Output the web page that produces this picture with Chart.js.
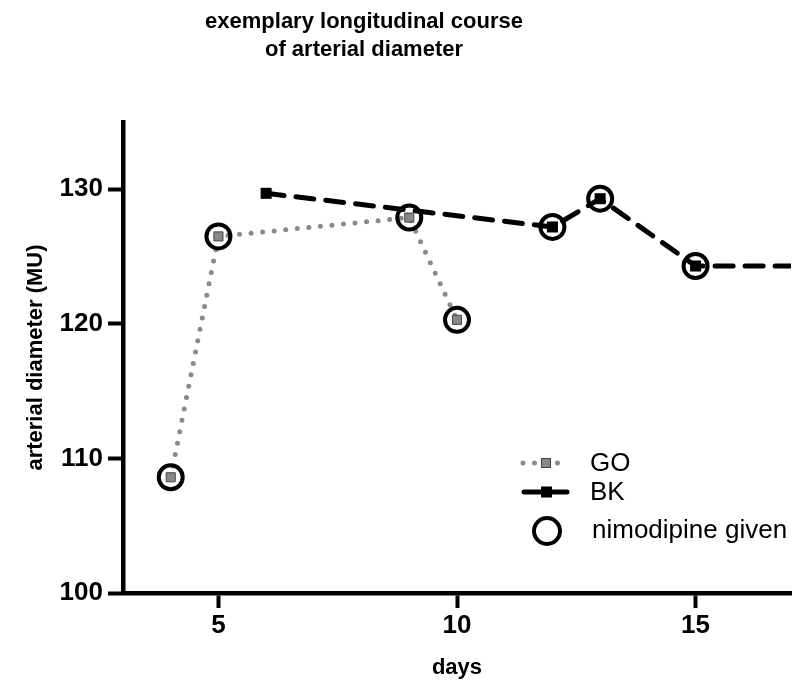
<!DOCTYPE html>
<html>
<head>
<meta charset="utf-8">
<script src="https://cdn.jsdelivr.net/npm/chart.js@4.4.0/dist/chart.umd.min.js"></script>
<style>
  html, body { margin: 0; padding: 0; background: #fff; overflow: hidden; }
  canvas { display: block; }
</style>
</head>
<body>
<canvas id="chart" width="799" height="684"></canvas>
<script>
// values
const goDays = [4, 5, 9, 10];
const goDiameter = [108.6, 126.5, 127.9, 120.3];
const bkDays = [6, 12, 13, 15, 17];
const bkDiameter = [129.7, 127.2, 129.3, 124.3, 124.3];
const nimoDays = [4, 5, 9, 10, 12, 13, 15];
const nimoDiameter = [108.6, 126.5, 127.9, 120.3, 127.2, 129.3, 124.3];
const xTicks = [5, 10, 15];
const yTicks = [100, 110, 120, 130];
const titleLines = ['exemplary longitudinal course', 'of arterial diameter'];
const seriesNames = ['GO', 'BK', 'nimodipine given'];

const FONT = '"Liberation Sans", Arial, Helvetica, sans-serif';
const GRAY = '#8a8a8a';

const toPoints = (xs, ys) => xs.map((x, i) => ({ x: x, y: ys[i] }));

// title lines + legend box inside the plot
const decorations = {
    id: 'decorations',
    afterDraw(chart) {
        const ctx = chart.ctx;
        ctx.save();
        ctx.fillStyle = '#000';
        ctx.textAlign = 'center';
        ctx.textBaseline = 'middle';
        ctx.font = 'bold 22px ' + FONT;
        ctx.fillText(titleLines[0], 364, 22);
        ctx.fillText(titleLines[1], 364, 50);

        // GO sample
        ctx.lineCap = 'round';
        ctx.strokeStyle = GRAY;
        ctx.lineWidth = 5;
        ctx.setLineDash([0, 11.5]);
        ctx.beginPath();
        ctx.moveTo(523, 463);
        ctx.lineTo(563, 463);
        ctx.stroke();
        ctx.setLineDash([]);
        ctx.fillStyle = '#888';
        ctx.strokeStyle = '#444';
        ctx.lineWidth = 1;
        ctx.fillRect(541.5, 458.5, 9, 9);
        ctx.strokeRect(541.5, 458.5, 9, 9);

        // BK sample
        ctx.strokeStyle = '#000';
        ctx.lineWidth = 5;
        ctx.beginPath();
        ctx.moveTo(524, 492);
        ctx.lineTo(567, 492);
        ctx.stroke();
        ctx.fillStyle = '#000';
        ctx.fillRect(541, 486.5, 11, 11);

        // nimodipine sample
        ctx.lineWidth = 4;
        ctx.beginPath();
        ctx.arc(547, 531, 13, 0, Math.PI * 2);
        ctx.stroke();

        ctx.fillStyle = '#000';
        ctx.textAlign = 'left';
        ctx.font = '26px ' + FONT;
        ctx.fillText(seriesNames[0], 590, 464);
        ctx.fillText(seriesNames[1], 590, 493);
        ctx.fillText(seriesNames[2], 592, 531);
        ctx.restore();
    }
};

new Chart(document.getElementById('chart').getContext('2d'), {
    type: 'line',
    data: {
        datasets: [
            {
                label: seriesNames[2],
                data: toPoints(nimoDays, nimoDiameter),
                showLine: false,
                pointStyle: 'circle',
                pointRadius: 12,
                pointBorderWidth: 4,
                pointBorderColor: '#000',
                pointBackgroundColor: 'rgba(0,0,0,0)'
            },
            {
                label: seriesNames[0],
                data: toPoints(goDays, goDiameter),
                borderColor: GRAY,
                borderWidth: 5,
                borderDash: [0, 11.6],
                borderCapStyle: 'round',
                pointStyle: 'rect',
                pointRadius: 6.4,
                pointBorderWidth: 1,
                pointBorderColor: '#444',
                pointBackgroundColor: '#888'
            },
            {
                label: seriesNames[1],
                data: toPoints(bkDays, bkDiameter),
                borderColor: '#000',
                borderWidth: 5,
                borderDash: [18, 12],
                borderCapStyle: 'round',
                pointStyle: 'rect',
                pointRadius: ctx => (ctx.dataIndex === bkDays.length - 1 ? 0 : 7.8),
                pointBorderWidth: 0,
                pointBackgroundColor: '#000'
            }
        ]
    },
    options: {
        responsive: false,
        devicePixelRatio: 1,
        animation: false,
        layout: { autoPadding: false, padding: { left: 0, top: 122, right: 8, bottom: 0 } },
        plugins: {
            legend: { display: false },
            tooltip: { enabled: false }
        },
        scales: {
            x: {
                type: 'linear',
                min: 3,
                max: 17,
                afterBuildTicks: s => { s.ticks = xTicks.map(v => ({ value: v })); },
                afterFit: s => { s.height = 91; s.paddingLeft = 0; s.paddingRight = 0; },
                border: { display: true, color: '#000', width: 4.5 },
                grid: { drawOnChartArea: false, drawTicks: true, tickLength: 15, tickWidth: 4, tickColor: '#000' },
                ticks: { color: '#000', padding: 2, font: { family: FONT, size: 26, weight: 'bold' } },
                title: {
                    display: true,
                    text: 'days',
                    color: '#000',
                    padding: { top: 0, bottom: 3 },
                    font: { family: FONT, size: 22, weight: 'bold' }
                }
            },
            y: {
                type: 'linear',
                min: 100,
                max: 135,
                afterBuildTicks: s => { s.ticks = yTicks.map(v => ({ value: v })); },
                afterFit: s => { s.width = 123; s.paddingTop = 0; s.paddingBottom = 0; },
                border: { display: true, color: '#000', width: 4.5 },
                grid: { drawOnChartArea: false, drawTicks: true, tickLength: 15, tickWidth: 4, tickColor: '#000' },
                ticks: { color: '#000', padding: 5, font: { family: FONT, size: 26, weight: 'bold' } },
                title: {
                    display: true,
                    text: 'arterial diameter (MU)',
                    color: '#000',
                    padding: { top: 23, bottom: 0 },
                    font: { family: FONT, size: 22, weight: 'bold' }
                }
            }
        }
    },
    plugins: [decorations]
});
</script>
</body>
</html>
